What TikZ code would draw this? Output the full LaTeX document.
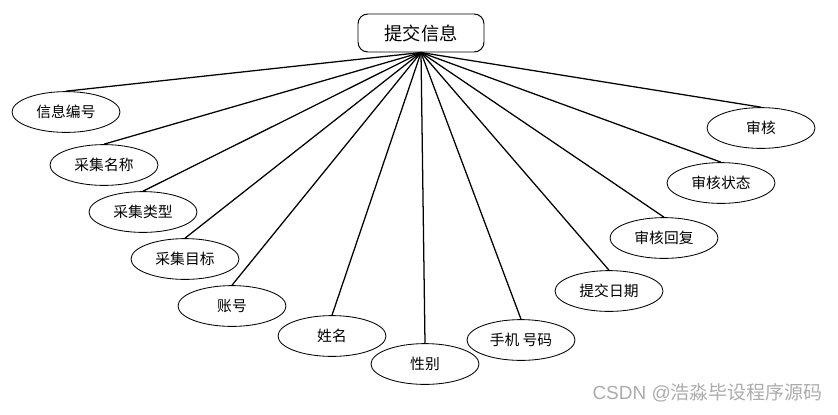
\documentclass[tikz,border=0pt]{standalone}
\usepackage{fontspec}
\setmainfont{Noto Sans CJK SC}
\setsansfont{Liberation Sans}
\usetikzlibrary{shapes.geometric}

\begin{document}
\begin{tikzpicture}[
    entity/.style={draw, rounded corners=7pt, minimum width=3.15cm, minimum height=0.95cm,
                   font=\fontsize{13}{15}\selectfont, line width=0.7pt},
    attr/.style={draw, ellipse, minimum width=2.7cm, minimum height=1.02cm, inner sep=0pt,
                 font=\fontsize{10.5}{12}\selectfont, line width=0.6pt},
    link/.style={line width=0.9pt},
    wmark/.style={font=\sffamily\fontsize{13.5}{15}\selectfont, text=gray!65}
  ]
  \useasboundingbox (0,0) rectangle (20.95,-10.35);

  % --- entity ---
  \node[entity] (info) at (10.525,-0.825) {提交信息};

  % --- attributes, left to right ---
  \node[attr] (id)     at (1.65,-2.8)     {信息编号};
  \node[attr] (name)   at (2.6,-4.125)    {采集名称};
  \node[attr] (kind)   at (3.575,-5.3)    {采集类型};
  \node[attr] (target) at (4.625,-6.475)  {采集目标};
  \node[attr] (acct)   at (5.8,-7.65)     {账号};
  \node[attr] (uname)  at (8.3,-8.4)      {姓名};
  \node[attr] (sex)    at (10.625,-9.1)   {性别};
  \node[attr] (phone)  at (13.025,-8.5)   {手机 号码};
  \node[attr] (date)   at (15.225,-7.275) {提交日期};
  \node[attr] (reply)  at (16.6,-5.95)    {审核回复};
  \node[attr] (state)  at (18.025,-4.575) {审核状态};
  \node[attr] (audit)  at (19.025,-3.2)   {审核};

  \foreach \a in {id, name, kind, target, acct, uname, sex, phone, date, reply, state, audit}
    \draw[link] (info.south) -- (\a.north);

  \node[wmark] (wm) at (17.69,-9.83) {CSDN @\rmfamily 浩淼毕设程序源码};

\end{tikzpicture}
\end{document}
